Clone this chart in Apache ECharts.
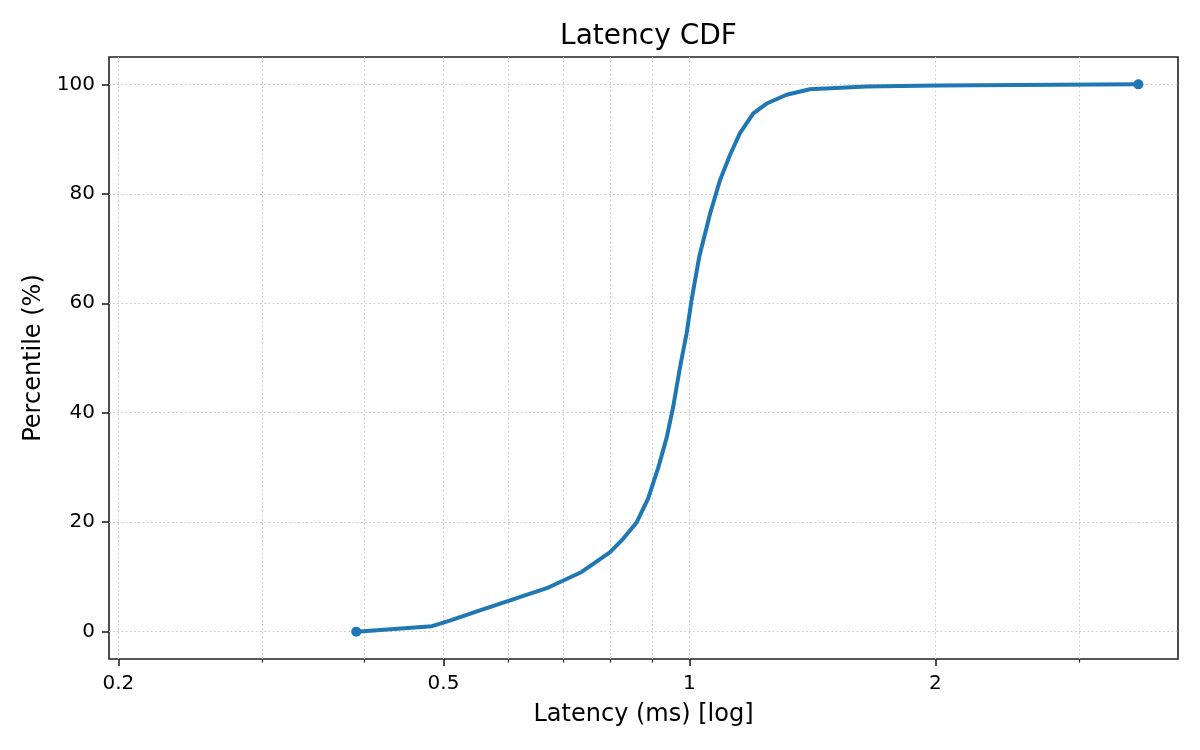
<!DOCTYPE html>
<html>
<head>
<meta charset="utf-8">
<title>Latency CDF</title>
<script src="https://cdn.jsdelivr.net/npm/echarts@6/dist/echarts.min.js"></script>
<style>
    html, body { margin: 0; padding: 0; background: #fff; }
    #chart { width: 1200px; height: 750px; }
</style>
</head>
<body>
<div id="chart"></div>
<script>
// latency (ms) at each percentile
var latencyMs = [0.391, 0.484, 0.509, 0.554, 0.603, 0.673, 0.738, 0.799, 0.830, 0.862,
                 0.890, 0.916, 0.938, 0.955, 0.974, 0.992, 1.006, 1.028, 1.060, 1.090,
                 1.121, 1.153, 1.197, 1.243, 1.315, 1.404, 1.648, 2.007, 3.543];
var percentile = [0, 1, 2, 3.9, 5.7, 8.1, 10.9, 14.5, 17, 20,
                  24.3, 30, 35.5, 41, 48.4, 54.5, 60.6, 68.5, 76.4, 82.5,
                  87.1, 91.1, 94.7, 96.5, 98.1, 99.1, 99.6, 99.8, 100];

// axis ticks
var xMajorTicks = [0.2, 0.5, 1, 2];
var xMinorTicks = [0.3, 0.4, 0.6, 0.7, 0.8, 0.9, 3];
var yTicks = [0, 20, 40, 60, 80, 100];

(function(win){
    var FONT = 'DejaVu Sans';
    var dom = document.getElementById('chart');
    var chart = echarts.init(dom, null, {renderer: 'canvas'});

    var points = [];
    for (var i = 0; i < latencyMs.length; i++) {
        points.push([latencyMs[i], percentile[i]]);
    }
    //只在首尾画点
    var ends = [points[0], points[points.length - 1]];

    var gridLine = {
        show: true,
        lineStyle: { color: '#c8c8c8', width: 1, type: [1.6, 2.6] }
    };
    var xRange = { min: 0.1948, max: 3.962 };

    var option = {
        animation: false,
        backgroundColor: '#ffffff',
        title: {
            text: 'Latency CDF',
            left: 643.5,
            top: 18,
            textAlign: 'center',
            textStyle: { fontFamily: FONT, fontSize: 28, fontWeight: 'normal', color: '#000' }
        },
        grid: {
            left: 109, right: 22, top: 57, bottom: 91,
            show: true,
            borderColor: '#222',
            borderWidth: 1.6,
            backgroundColor: 'transparent'
        },
        xAxis: [
            {
                type: 'log',
                logBase: 10,
                min: xRange.min,
                max: xRange.max,
                position: 'bottom',
                name: 'Latency (ms) [log]',
                nameLocation: 'middle',
                nameGap: 44,
                nameTextStyle: { fontFamily: FONT, fontSize: 24, color: '#000' },
                axisLine: { show: false, onZero: false },
                axisTick: { show: true, length: 7, customValues: xMajorTicks,
                            lineStyle: { color: '#222', width: 1.6 } },
                axisLabel: { show: true, customValues: xMajorTicks, margin: 15,
                             fontFamily: FONT, fontSize: 20, color: '#000',
                             formatter: function(v){ return String(v); } },
                splitLine: gridLine
            },
            {
                type: 'log',
                logBase: 10,
                min: xRange.min,
                max: xRange.max,
                position: 'bottom',
                axisLine: { show: false, onZero: false },
                axisTick: { show: true, length: 3.5, customValues: xMinorTicks,
                            lineStyle: { color: '#222', width: 1.2 } },
                axisLabel: { show: false },
                splitLine: gridLine
            }
        ],
        yAxis: {
            type: 'value',
            min: -5,
            max: 105,
            name: 'Percentile (%)',
            nameLocation: 'middle',
            nameGap: 62,
            nameTextStyle: { fontFamily: FONT, fontSize: 24, color: '#000' },
            axisLine: { show: false, onZero: false },
            axisTick: { show: true, length: 7, customValues: yTicks,
                        lineStyle: { color: '#222', width: 1.6 } },
            axisLabel: { show: true, customValues: yTicks, margin: 14,
                         fontFamily: FONT, fontSize: 20, color: '#000' },
            splitLine: gridLine
        },
        series: [
            {
                name: 'CDF',
                type: 'line',
                xAxisIndex: 0,
                data: points,
                showSymbol: false,
                smooth: false,
                lineStyle: { color: '#1f77b4', width: 4, join: 'round', cap: 'round' },
                z: 3
            },
            {
                name: 'ends',
                type: 'scatter',
                xAxisIndex: 0,
                data: ends,
                symbol: 'circle',
                symbolSize: 10,
                itemStyle: { color: '#1f77b4', opacity: 1 },
                z: 4
            }
        ]
    };
    chart.setOption(option);
    win.addEventListener('resize', function(){ chart.resize(); });
})(window);
</script>
</body>
</html>
